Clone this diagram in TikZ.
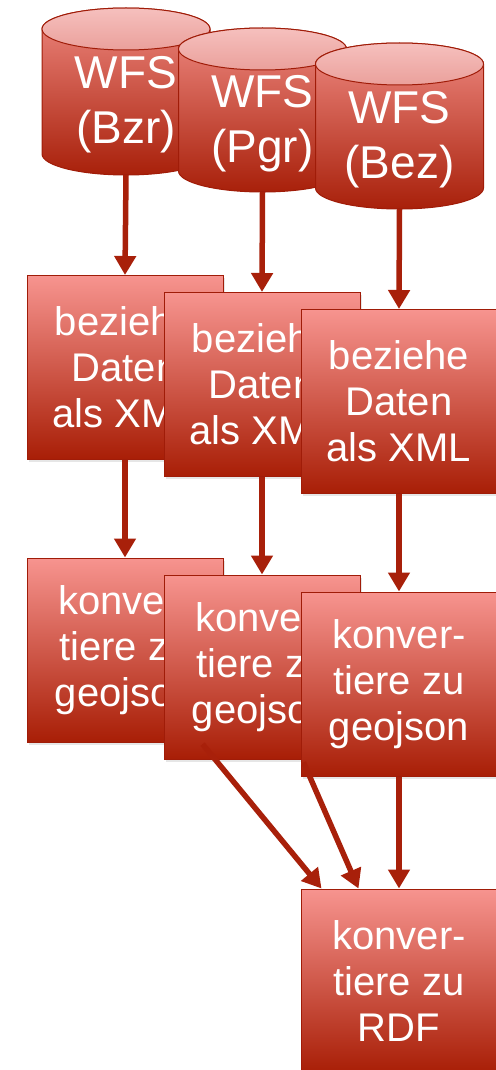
\documentclass[tikz,border=0pt]{standalone}
\usepackage{fontspec}
\setmainfont{Liberation Sans}
\usetikzlibrary{arrows.meta,calc,shadows}

\definecolor{boxtop}{RGB}{247,148,143}
\definecolor{boxbot}{RGB}{168,30,6}
\definecolor{cyltop}{RGB}{238,136,128}
\definecolor{cylbot}{RGB}{168,32,10}
\definecolor{lidtop}{RGB}{246,192,190}
\definecolor{lidbot}{RGB}{234,160,155}
\definecolor{edgered}{RGB}{160,28,8}
\definecolor{arrowred}{RGB}{168,32,10}

\tikzset{
  stepbox/.style={rectangle, draw=edgered, line width=1pt, top color=boxtop, bottom color=boxbot,
    minimum width=196pt, minimum height=184pt, inner sep=0pt, text=white, align=center,
    font=\fontsize{40}{46}\selectfont,
    drop shadow={opacity=0.2, shadow xshift=1.5pt, shadow yshift=-2.5pt}},
  wfstext/.style={text=white, align=center, inner sep=0pt, font=\fontsize{46}{55}\selectfont},
  flow/.style={draw=arrowred, line width=5.5pt, -{Triangle[width=21pt,length=19pt]}}
}

% #1 name, #2 center x, #3 top, #4 bottom, #5 text
\newcommand\wfscyl[5]{%
  \shadedraw[top color=cyltop, bottom color=cylbot, draw=edgered, line width=1pt]
    (#2-84,#3+21) -- (#2-84,#4-21) arc[start angle=180,end angle=360,x radius=84pt,y radius=21pt]
    -- (#2+84,#3+21) arc[start angle=0,end angle=180,x radius=84pt,y radius=21pt] -- cycle;
  \shadedraw[top color=lidtop, bottom color=lidbot, draw=edgered, line width=1pt]
    (#2,#3+21) ellipse [x radius=84pt, y radius=21pt];
  \node[wfstext] (#1) at (#2,{(#3+21+#4)/2+3}) {#5};
  \coordinate (#1-bot) at (#2,#4);
}

\begin{document}
\begin{tikzpicture}[x=1pt,y=-1pt]
\useasboundingbox (0,0) rectangle (495,1070);

%the three WFS sources
\wfscyl{bzr}{126}{8}{175}{WFS\\(Bzr)}
\wfscyl{pgr}{262.5}{28}{192}{WFS\\(Pgr)}
\wfscyl{bez}{399.5}{43}{209}{WFS\\(Bez)}

%beziehe Daten
\node[stepbox] (xml1) at (125,367.5) {beziehe\\Daten\\als XML};
\node[stepbox] (xml2) at (262,384.5) {beziehe\\Daten\\als XML};
\node[stepbox] (xml3) at (399,401.5) {beziehe\\Daten\\als XML};

%konvertiere zu geojson
\node[stepbox] (geo1) at (125,650) {konver-\\tiere zu\\geojson};
\node[stepbox] (geo2) at (262,667) {konver-\\tiere zu\\geojson};
\node[stepbox] (geo3) at (399,684) {konver-\\tiere zu\\geojson};

%konvertiere zu RDF
\node[stepbox] (rdf) at (399,981) {konver-\\tiere zu\\RDF};

\draw[flow] (bzr-bot) -- (xml1.north);
\draw[flow] (pgr-bot) -- (xml2.north);
\draw[flow] (bez-bot) -- (xml3.north);

\draw[flow] (xml1.south) -- (geo1.north);
\draw[flow] (xml2.south) -- (geo2.north);
\draw[flow] (xml3.south) -- (geo3.north);

\coordinate (rdf-in1) at ([xshift=21pt]rdf.north west);
\coordinate (rdf-in2) at ([xshift=58pt]rdf.north west);
\draw[flow, shorten <=122pt] (geo1.center) -- (rdf-in1);
\draw[flow, shorten <=104pt] (geo2.center) -- (rdf-in2);
\draw[flow] (geo3.south) -- (rdf.north);
\end{tikzpicture}
\end{document}
